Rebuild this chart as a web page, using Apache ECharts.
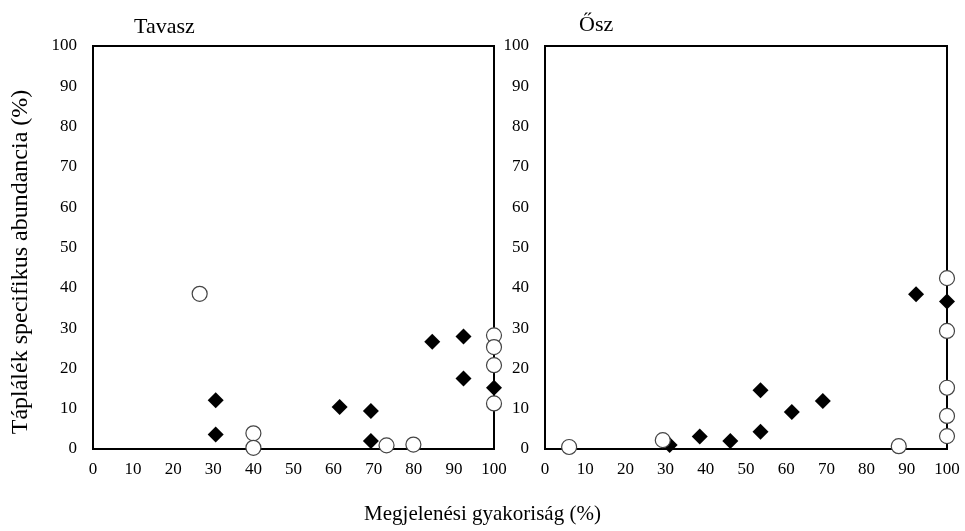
<!DOCTYPE html>
<html>
<head>
<meta charset="utf-8">
<script src="https://cdn.jsdelivr.net/npm/echarts@6/dist/echarts.min.js"></script>
<style>
  html, body { margin: 0; padding: 0; background: #fff; }
  #chart { width: 965px; height: 531px; }
</style>
</head>
<body>
<div id="chart"></div>
<script>
// Tavasz (spring): [gyakoriság, abundancia]
const springFilled = [
  [30.6, 12.1], [30.6, 3.6], [61.5, 10.4], [69.3, 9.4], [69.3, 2.0],
  [84.6, 26.6], [92.4, 27.9], [92.4, 17.5], [100, 15.2]
]
const springOpen = [
  [26.6, 38.5], [40, 3.9], [40, 0.3], [73.2, 0.9], [79.9, 1.1],
  [100, 28.2], [100, 25.3], [100, 20.8], [100, 11.3]
]
// Ősz (autumn)
const autumnFilled = [
  [31.0, 1.0], [38.5, 3.1], [46.1, 2.0], [53.6, 14.6], [53.6, 4.3],
  [61.4, 9.2], [69.1, 11.9], [92.3, 38.4], [100, 36.6]
]
const autumnOpen = [
  [6.0, 0.5], [29.3, 2.2], [88.0, 0.7], [100, 42.4], [100, 29.3],
  [100, 15.2], [100, 8.2], [100, 3.2]
]

const panelTitles = ['Tavasz', 'Ősz']
const xAxisName = 'Megjelenési gyakoriság (%)'
const yAxisName = 'Táplálék specifikus abundancia (%)'

const FONT = '"Liberation Serif", "Times New Roman", serif'

const chart = echarts.init(document.getElementById('chart'))

const makeAxisX = (gridIndex) => ({
  type: 'value',
  gridIndex,
  min: 0,
  max: 100,
  interval: 10,
  axisLine: { show: true, onZero: false, lineStyle: { color: '#000', width: 2 } },
  axisTick: { show: false },
  splitLine: { show: false },
  axisLabel: { color: '#000', fontFamily: FONT, fontSize: 17, margin: 12 },
})

const makeAxisY = (gridIndex) => ({
  type: 'value',
  gridIndex,
  min: 0,
  max: 100,
  interval: 10,
  axisLine: { show: true, lineStyle: { color: '#000', width: 2 } },
  axisTick: { show: false },
  splitLine: { show: false },
  axisLabel: { color: '#000', fontFamily: FONT, fontSize: 17, margin: 16 },
})

const filledStyle = {
  type: 'scatter',
  symbol: 'diamond',
  symbolSize: 16,
  clip: false,
  itemStyle: { color: '#000', opacity: 1 },
}

const openStyle = {
  type: 'scatter',
  symbol: 'circle',
  symbolSize: 15,
  clip: false,
  itemStyle: { color: '#fff', borderColor: '#444', borderWidth: 1.2, opacity: 1 },
}

const option = {
  backgroundColor: '#fff',
  animation: false,
  title: [
    { text: panelTitles[0], left: 129, top: 11, textStyle: { fontFamily: FONT, fontSize: 22, fontWeight: 'normal', color: '#000' } },
    { text: panelTitles[1], left: 574, top: 9, textStyle: { fontFamily: FONT, fontSize: 22, fontWeight: 'normal', color: '#000' } },
  ],
  grid: [
    { left: 93, width: 401, top: 46, height: 403, show: true, borderColor: '#000', borderWidth: 2, containLabel: false },
    { left: 545, width: 402, top: 46, height: 403, show: true, borderColor: '#000', borderWidth: 2, containLabel: false },
  ],
  xAxis: [makeAxisX(0), makeAxisX(1)],
  yAxis: [makeAxisY(0), makeAxisY(1)],
  graphic: [
    {
      type: 'text',
      left: 'center',
      top: 504,
      style: { text: xAxisName, fontFamily: FONT, fontSize: 21, fill: '#000' },
    },
    {
      type: 'text',
      x: 9,
      y: 262,
      rotation: Math.PI / 2,
      style: { text: yAxisName, fontFamily: FONT, fontSize: 24, fill: '#000', align: 'center', verticalAlign: 'top' },
    },
  ],
  series: [
    { ...filledStyle, xAxisIndex: 0, yAxisIndex: 0, data: springFilled },
    { ...openStyle, xAxisIndex: 0, yAxisIndex: 0, data: springOpen },
    { ...filledStyle, xAxisIndex: 1, yAxisIndex: 1, data: autumnFilled },
    { ...openStyle, xAxisIndex: 1, yAxisIndex: 1, data: autumnOpen },
  ],
}

chart.setOption(option)
</script>
</body>
</html>
